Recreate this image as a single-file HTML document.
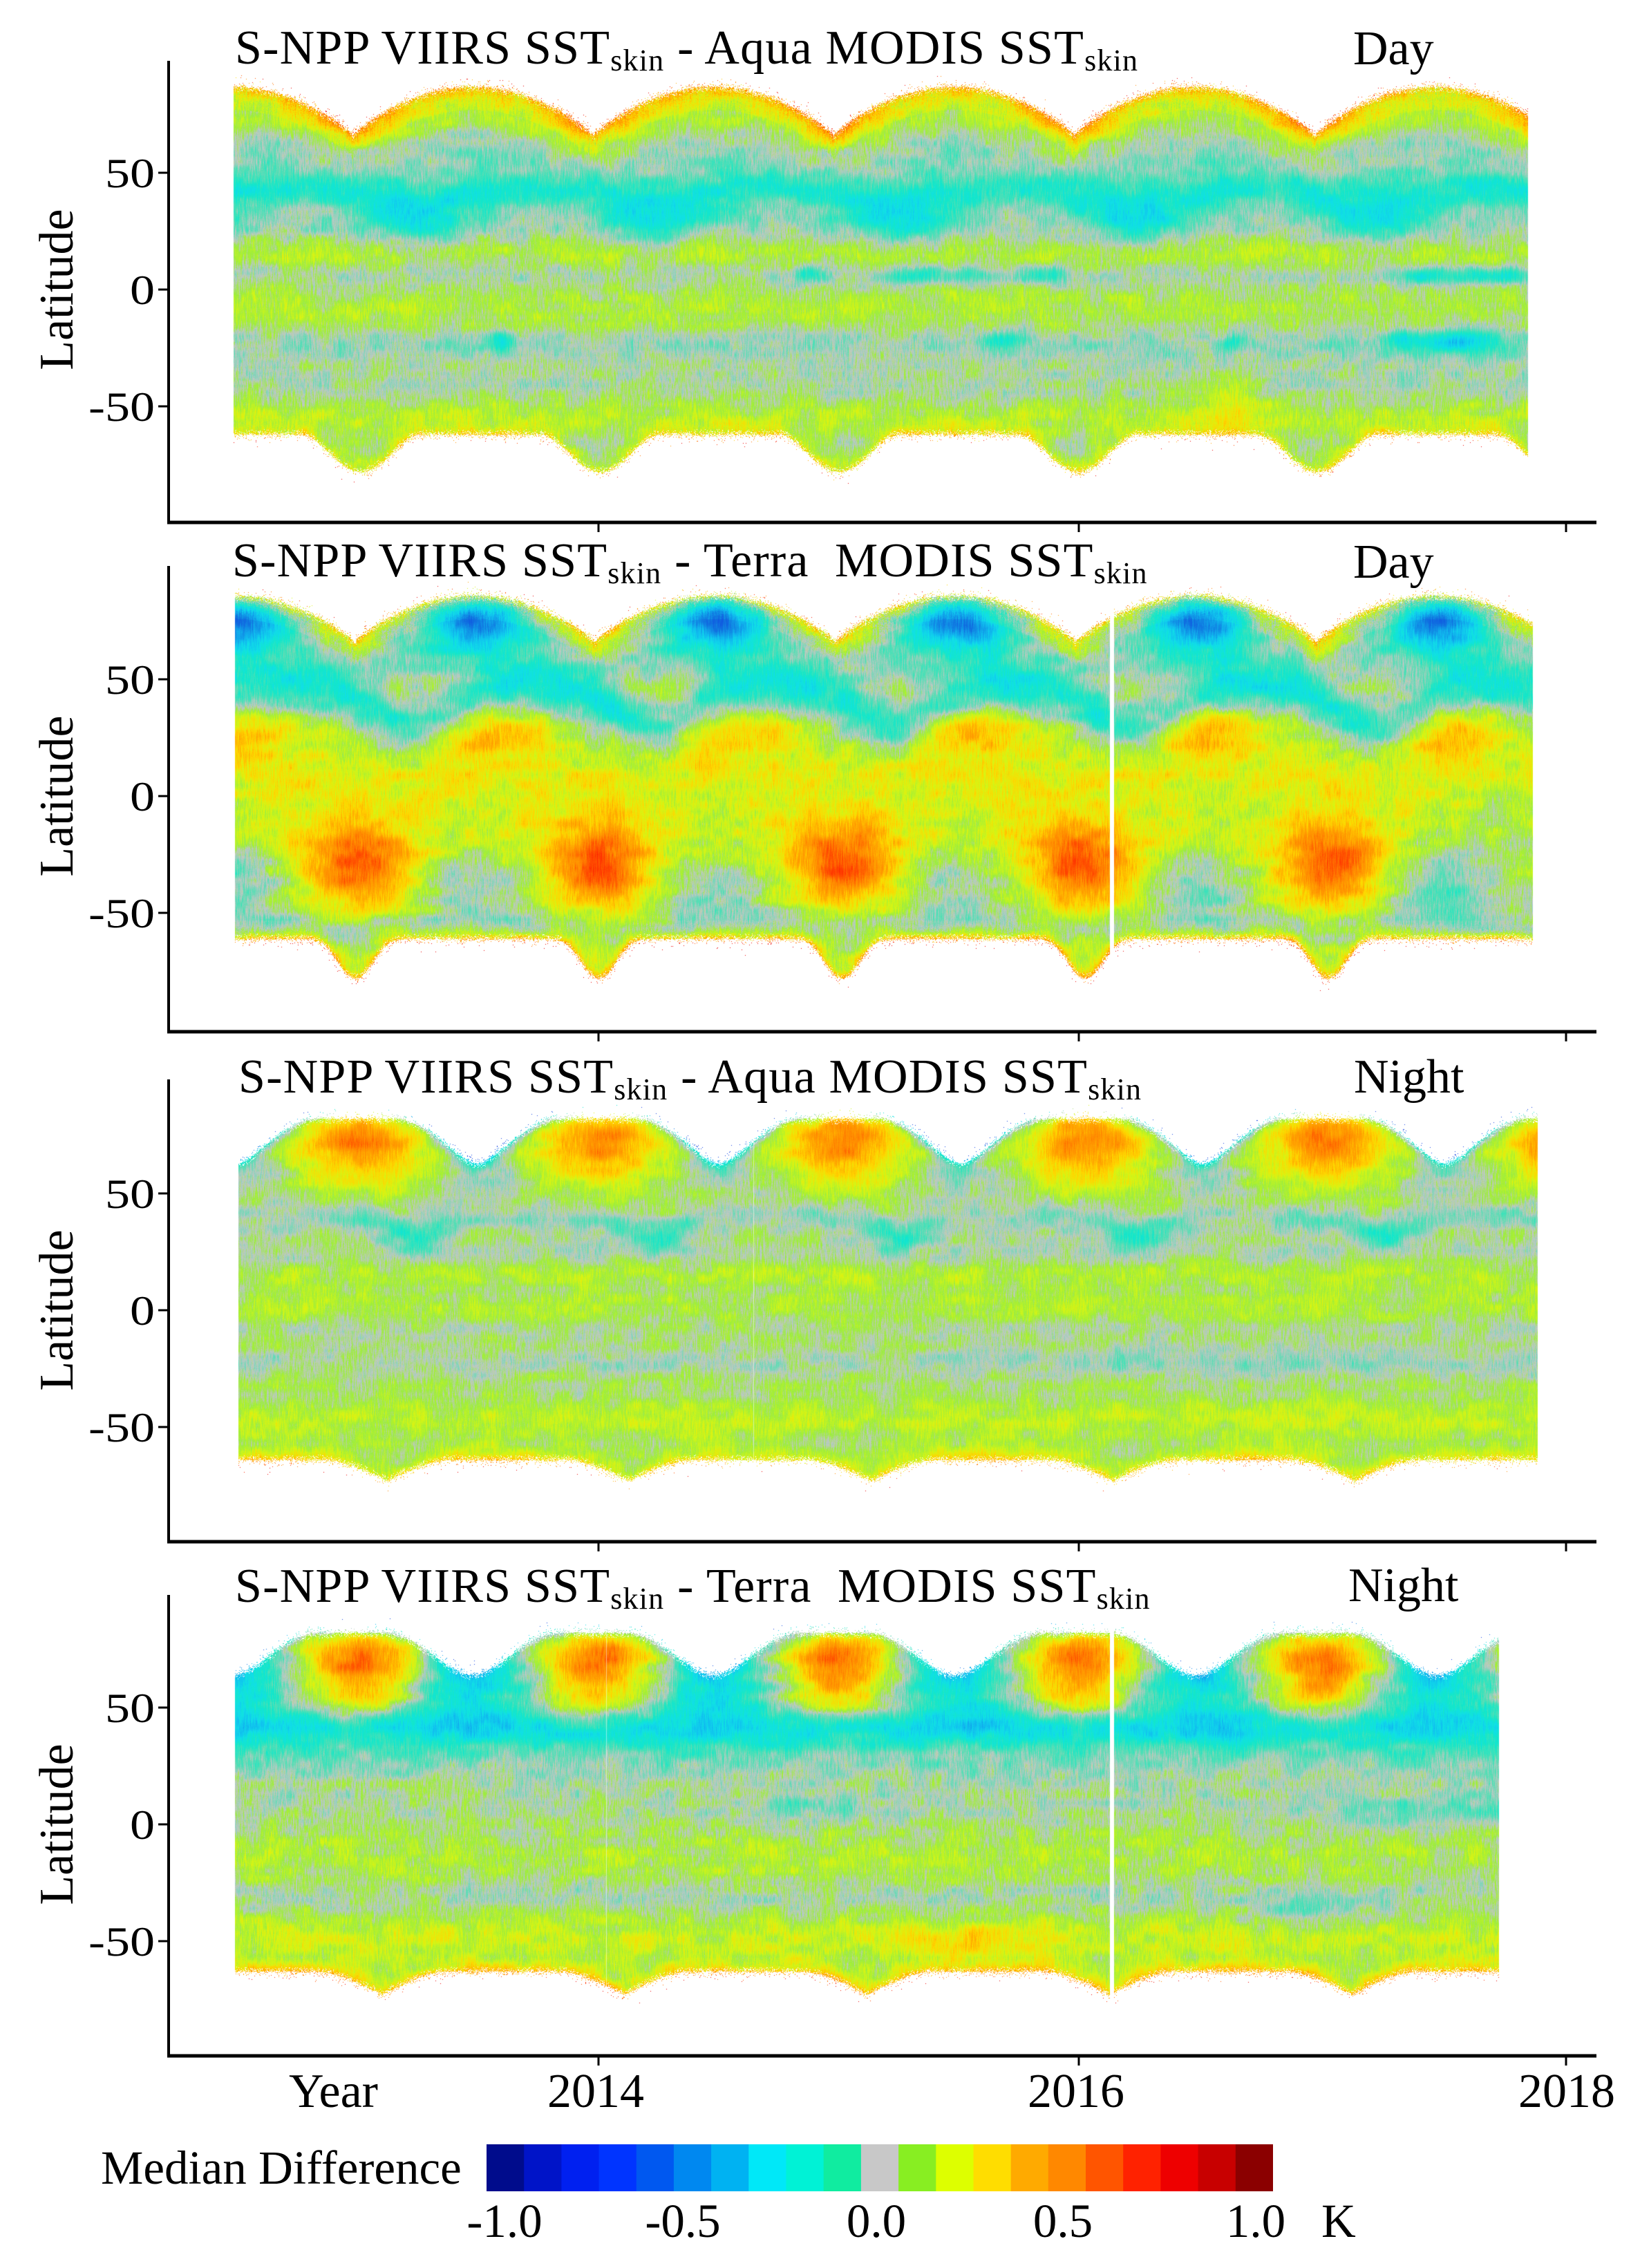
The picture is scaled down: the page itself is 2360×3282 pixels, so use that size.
<!DOCTYPE html>
<html><head><meta charset="utf-8">
<style>
html,body{margin:0;padding:0;background:#fff;}
#wrap{position:relative;width:2360px;height:3282px;overflow:hidden;background:#fff;}
canvas,svg{position:absolute;left:0;top:0;}
text{font-family:"Liberation Serif","Times New Roman",serif;fill:#000;}
</style></head><body>
<div id="wrap">
<canvas id="c" width="2360" height="3282"></canvas>
<svg width="2360" height="3282" viewBox="0 0 2360 3282" xmlns="http://www.w3.org/2000/svg" font-family="Liberation Serif, serif">
<g stroke="#000" fill="none">
  <line x1="244" y1="88" x2="244" y2="758" stroke-width="4"/>
  <line x1="242" y1="756" x2="2310" y2="756" stroke-width="5"/>
  <line x1="866" y1="756" x2="866" y2="770" stroke-width="3"/>
  <line x1="1561" y1="756" x2="1561" y2="770" stroke-width="3"/>
  <line x1="2266" y1="756" x2="2266" y2="770" stroke-width="3"/>
  <line x1="229" y1="250" x2="244" y2="250" stroke-width="3"/>
  <line x1="229" y1="419" x2="244" y2="419" stroke-width="3"/>
  <line x1="229" y1="588" x2="244" y2="588" stroke-width="3"/>
  <line x1="244" y1="819" x2="244" y2="1495" stroke-width="4"/>
  <line x1="242" y1="1493" x2="2310" y2="1493" stroke-width="5"/>
  <line x1="866" y1="1493" x2="866" y2="1507" stroke-width="3"/>
  <line x1="1561" y1="1493" x2="1561" y2="1507" stroke-width="3"/>
  <line x1="2266" y1="1493" x2="2266" y2="1507" stroke-width="3"/>
  <line x1="229" y1="983" x2="244" y2="983" stroke-width="3"/>
  <line x1="229" y1="1152" x2="244" y2="1152" stroke-width="3"/>
  <line x1="229" y1="1321" x2="244" y2="1321" stroke-width="3"/>
  <line x1="244" y1="1562" x2="244" y2="2233" stroke-width="4"/>
  <line x1="242" y1="2231" x2="2310" y2="2231" stroke-width="5"/>
  <line x1="866" y1="2231" x2="866" y2="2245" stroke-width="3"/>
  <line x1="1561" y1="2231" x2="1561" y2="2245" stroke-width="3"/>
  <line x1="2266" y1="2231" x2="2266" y2="2245" stroke-width="3"/>
  <line x1="229" y1="1727" x2="244" y2="1727" stroke-width="3"/>
  <line x1="229" y1="1896" x2="244" y2="1896" stroke-width="3"/>
  <line x1="229" y1="2065" x2="244" y2="2065" stroke-width="3"/>
  <line x1="244" y1="2308" x2="244" y2="2977" stroke-width="4"/>
  <line x1="242" y1="2975" x2="2310" y2="2975" stroke-width="5"/>
  <line x1="866" y1="2975" x2="866" y2="2989" stroke-width="3"/>
  <line x1="1561" y1="2975" x2="1561" y2="2989" stroke-width="3"/>
  <line x1="2266" y1="2975" x2="2266" y2="2989" stroke-width="3"/>
  <line x1="229" y1="2471" x2="244" y2="2471" stroke-width="3"/>
  <line x1="229" y1="2640" x2="244" y2="2640" stroke-width="3"/>
  <line x1="229" y1="2809" x2="244" y2="2809" stroke-width="3"/>
</g>

<text x="340" y="92" font-size="70" letter-spacing="1.2" style="white-space:pre">S-NPP VIIRS SST<tspan font-size="44" dy="10">skin</tspan><tspan dy="-10"> - Aqua MODIS SST</tspan><tspan font-size="44" dy="10">skin</tspan></text>
<text x="1958" y="93" font-size="70">Day</text>
<text x="336" y="834" font-size="70" letter-spacing="1.2" style="white-space:pre">S-NPP VIIRS SST<tspan font-size="44" dy="10">skin</tspan><tspan dy="-10"> - Terra  MODIS SST</tspan><tspan font-size="44" dy="10">skin</tspan></text>
<text x="1958" y="836" font-size="70">Day</text>
<text x="345" y="1581" font-size="70" letter-spacing="1.2" style="white-space:pre">S-NPP VIIRS SST<tspan font-size="44" dy="10">skin</tspan><tspan dy="-10"> - Aqua MODIS SST</tspan><tspan font-size="44" dy="10">skin</tspan></text>
<text x="1959" y="1581" font-size="70">Night</text>
<text x="340" y="2318" font-size="70" letter-spacing="1.2" style="white-space:pre">S-NPP VIIRS SST<tspan font-size="44" dy="10">skin</tspan><tspan dy="-10"> - Terra  MODIS SST</tspan><tspan font-size="44" dy="10">skin</tspan></text>
<text x="1951" y="2317" font-size="70">Night</text>

<text transform="translate(105,419) rotate(-90)" text-anchor="middle" font-size="70">Latitude</text>
<text transform="translate(105,1152) rotate(-90)" text-anchor="middle" font-size="70">Latitude</text>
<text transform="translate(105,1896) rotate(-90)" text-anchor="middle" font-size="70">Latitude</text>
<text transform="translate(105,2640) rotate(-90)" text-anchor="middle" font-size="70">Latitude</text>

<g transform="translate(224,271) scale(1.2,1)"><text text-anchor="end" font-size="60">50</text></g>
<g transform="translate(224,440) scale(1.2,1)"><text text-anchor="end" font-size="60">0</text></g>
<g transform="translate(224,609) scale(1.2,1)"><text text-anchor="end" font-size="60">-50</text></g>
<g transform="translate(224,1004) scale(1.2,1)"><text text-anchor="end" font-size="60">50</text></g>
<g transform="translate(224,1173) scale(1.2,1)"><text text-anchor="end" font-size="60">0</text></g>
<g transform="translate(224,1342) scale(1.2,1)"><text text-anchor="end" font-size="60">-50</text></g>
<g transform="translate(224,1748) scale(1.2,1)"><text text-anchor="end" font-size="60">50</text></g>
<g transform="translate(224,1917) scale(1.2,1)"><text text-anchor="end" font-size="60">0</text></g>
<g transform="translate(224,2086) scale(1.2,1)"><text text-anchor="end" font-size="60">-50</text></g>
<g transform="translate(224,2492) scale(1.2,1)"><text text-anchor="end" font-size="60">50</text></g>
<g transform="translate(224,2661) scale(1.2,1)"><text text-anchor="end" font-size="60">0</text></g>
<g transform="translate(224,2830) scale(1.2,1)"><text text-anchor="end" font-size="60">-50</text></g>

<text x="418" y="3049" font-size="70">Year</text>
<text x="862" y="3049" font-size="70" text-anchor="middle">2014</text>
<text x="1557" y="3049" font-size="70" text-anchor="middle">2016</text>
<text x="2267" y="3049" font-size="70" text-anchor="middle">2018</text>

<text x="146" y="3160" font-size="69">Median Difference</text>
<g stroke="none">
<rect x="704" y="3103" width="55" height="68" fill="#000c8c"/>
<rect x="758.2" y="3103" width="55" height="68" fill="#0014c8"/>
<rect x="812.4" y="3103" width="55" height="68" fill="#0020f0"/>
<rect x="866.6" y="3103" width="55" height="68" fill="#0034ff"/>
<rect x="920.8" y="3103" width="55" height="68" fill="#0058f0"/>
<rect x="974.9" y="3103" width="55" height="68" fill="#0088f0"/>
<rect x="1029.1" y="3103" width="55" height="68" fill="#00b2f2"/>
<rect x="1083.3" y="3103" width="55" height="68" fill="#00e8f8"/>
<rect x="1137.5" y="3103" width="55" height="68" fill="#00f2d6"/>
<rect x="1191.7" y="3103" width="55" height="68" fill="#10eca0"/>
<rect x="1245.9" y="3103" width="55" height="68" fill="#c8c8c8"/>
<rect x="1300.1" y="3103" width="55" height="68" fill="#88ee22"/>
<rect x="1354.3" y="3103" width="55" height="68" fill="#ddff00"/>
<rect x="1408.5" y="3103" width="55" height="68" fill="#ffdd00"/>
<rect x="1462.7" y="3103" width="55" height="68" fill="#ffaa00"/>
<rect x="1516.8" y="3103" width="55" height="68" fill="#ff8800"/>
<rect x="1571.0" y="3103" width="55" height="68" fill="#ff5500"/>
<rect x="1625.2" y="3103" width="55" height="68" fill="#ff2200"/>
<rect x="1679.4" y="3103" width="55" height="68" fill="#ee0000"/>
<rect x="1733.6" y="3103" width="55" height="68" fill="#c80000"/>
<rect x="1787.8" y="3103" width="54.2" height="68" fill="#8b0000"/>
</g>
<text x="730" y="3237" font-size="69" text-anchor="middle">-1.0</text>
<text x="988" y="3237" font-size="69" text-anchor="middle">-0.5</text>
<text x="1268" y="3237" font-size="69" text-anchor="middle">0.0</text>
<text x="1538" y="3237" font-size="69" text-anchor="middle">0.5</text>
<text x="1817" y="3237" font-size="69" text-anchor="middle">1.0</text>
<text x="1912" y="3237" font-size="69">K</text>
</svg>
</div>
<script>
(function(){
var cv=document.getElementById('c');
var ctx=cv.getContext('2d');
var s=987654321;
function rnd(){ s^=s<<13; s^=s>>>17; s^=s<<5; return (s>>>0)/4294967296; }
var stops=[[-0.8,16,64,224],[-0.6,16,112,224],[-0.5,16,152,232],[-0.4,16,192,240],[-0.3,16,224,232],[-0.2,20,232,200],[-0.1,90,222,180],[0,192,200,196],[0.08,155,238,62],[0.18,215,246,20],[0.28,255,216,0],[0.38,255,168,0],[0.48,255,136,0],[0.58,255,88,0],[0.68,255,48,0],[0.8,232,0,0]];
var N=1024,LR=new Uint8Array(N),LG=new Uint8Array(N),LB=new Uint8Array(N);
for(var i=0;i<N;i++){
  var v=-1+2*i/(N-1),r,gg,b;
  if(v<=stops[0][0]){r=stops[0][1];gg=stops[0][2];b=stops[0][3];}
  else if(v>=stops[stops.length-1][0]){var L=stops[stops.length-1];r=L[1];gg=L[2];b=L[3];}
  else{
    for(var k=0;k<stops.length-1;k++){
      if(v>=stops[k][0]&&v<stops[k+1][0]){
        var a=stops[k],c=stops[k+1],t=(v-a[0])/(c[0]-a[0]);
        r=a[1]+(c[1]-a[1])*t;gg=a[2]+(c[2]-a[2])*t;b=a[3]+(c[3]-a[3])*t;break;
      }
    }
  }
  LR[i]=r;LG[i]=gg;LB[i]=b;
}
function idx(v){var i=Math.round((v+1)*(N-1)/2);return i<0?0:(i>N-1?N-1:i);}
var E=Math.exp;
function g(a,sg){return E(-a*a/(2*sg*sg));}
function dnear(x,c,P){var d=((x-c)%P+P)%P;if(d>P/2)d-=P;return d;}
function per(x,c,P,sg){var d=dnear(x,c,P);return E(-d*d/(2*sg*sg));}
function topFlat(x,x0,P,rad,span,lo,hi){var d=dnear(x,x0,P);var r=Math.sqrt(d*d+rad*rad)-rad;var u=Math.min(1,r/span);return lo+(hi-lo)*(1.5*u-0.5*u*u*u);}

var K=3.38;
function render(p){
  var y0=Math.floor(p.Z-92*K),y1=Math.ceil(p.Z+84*K);
  var w=p.xe-p.xs+1,h=y1-y0+1;
  var img=ctx.createImageData(w,h),d=img.data;
  var sy=9,ny=Math.ceil(h/sy)+2;
  var bx=26,by=14,gw=Math.ceil(w/bx)+2,gh=Math.ceil(h/by)+2;
  var grid=new Float32Array(gw*gh);
  for(var q=0;q<gw*gh;q++)grid[q]=rnd()*2-1;
  var col=new Float32Array(ny);
  for(var i=0;i<w;i++){
    var x=p.xs+i;
    var gap=false;
    if(p.gaps){for(var z=0;z<p.gaps.length;z++){if(x>=p.gaps[z][0]&&x<=p.gaps[z][1])gap=true;}}
    if(gap)continue;
    var faint=p.faint&&p.faint.indexOf(x)>=0;
    for(var k=0;k<ny;k++)col[k]=rnd()*2-1;
    var top=p.top(x),bot=p.bot(x);
    var C=p.col(x);
    for(var j=0;j<h;j++){
      var y=y0+j,lat=(p.Z-y)/K;
      var dt=top-lat,db=lat-bot;
      var m=Math.min(dt,db)*K;
      if(m<0){ if(m<-25||rnd()>=0.35*E(m/3))continue; }
      else if(m<8){ if(rnd()>=0.6+0.05*m)continue; }
      var fy=j/sy,k0=fy|0,t=fy-k0;
      var cn=col[k0]*(1-t)+col[k0+1]*t;
      var gx=i/bx,gy=j/by,ix=gx|0,iy=gy|0,tx=gx-ix,ty=gy-iy;
      var sx_=tx*tx*(3-2*tx),sy_=ty*ty*(3-2*ty);
      var A=grid[iy*gw+ix],B=grid[iy*gw+ix+1],C2=grid[(iy+1)*gw+ix],D2=grid[(iy+1)*gw+ix+1];
      var bn=(A*(1-sx_)+B*sx_)*(1-sy_)+(C2*(1-sx_)+D2*sx_)*sy_;
      var v=p.pix(lat,C,dt,db,x)+p.an*cn+p.bn*bn+0.018*(rnd()*2-1);
      var qi=idx(v),o=(j*w+i)*4;
      if(faint){d[o]=(LR[qi]+255)>>1;d[o+1]=(LG[qi]+255)>>1;d[o+2]=(LB[qi]+255)>>1;}
      else{d[o]=LR[qi];d[o+1]=LG[qi];d[o+2]=LB[qi];}
      d[o+3]=255;
    }
  }
  ctx.putImageData(img,p.xs,y0);
}

var P1={Z:419,xs:338,xe:2210,an:0.07,bn:0.06,
 top:function(x){return 66+21*Math.pow(Math.abs(Math.sin(Math.PI*(x-510)/348)),0.8);},
 bot:function(x){return -62-16*Math.pow(Math.max(0,Math.cos(2*Math.PI*(x-522)/346)),1.8);},
 col:function(x){var dip=per(x,600,348,60);
   return {Lc:44-9*dip,ta:0.24+0.06*dip,ts:6+4*dip,pk:per(x,684,348,80),tr:per(x,510,348,50),
   b6:0.22*g(x-1165,18)+0.22*g(x-1331,25)+0.15*g(x-1400,20)+0.2*g(x-1513,22)+0.22*g(x-2060,30)+0.25*g(x-2160,40),
   b22:0.2*g(x-726,14)+0.22*g(x-1452,25)+0.18*g(x-1785,14)+0.2*g(x-2030,25)+0.25*g(x-2110,35),
   gr:0.06*g(x-2110,110),ye:0.12*g(x-1770,40)};},
 pix:function(lat,C,dt,db){
   var v=0.045+0.07*g(lat-16,4)+0.06*g(lat+9,6)+0.08*g(lat+55,5)+0.07*g(lat-76,7)
     -0.07*g(lat-28,5)-0.05*g(lat-6,3)-0.08*g(lat+24,5)-0.04*g(lat+40,5);
   v-=C.ta*g(lat-C.Lc,C.ts);
   v-=0.1*C.pk*g(lat-60,6);
   v+=0.14*C.tr*g(lat-70,6);
   v-=C.b6*g(lat-6,2.5)+C.b22*g(lat+22,3);
   v-=C.gr*g(lat+22,10);
   v+=C.ye*g(lat+47,8);
   if(dt<10)v+=(0.1+0.35*rnd())*E(-dt/5);
   if(db<8)v+=(0.08+0.25*rnd())*E(-db/3);
   return v;}
};

var P2={Z:1152,xs:340,xe:2217,an:0.07,bn:0.07,gaps:[[1606,1611]],
 top:function(x){return 66+20*Math.pow(Math.abs(Math.sin(Math.PI*(x-512)/348)),0.8);},
 bot:function(x){return -61-17*Math.pow(Math.max(0,Math.cos(2*Math.PI*(x-514)/352)),5);},
 col:function(x){
   var red=0,halo=0,cs=[514,862,1215,1558,1921];
   for(var k=0;k<cs.length;k++){red+=g(x-cs[k]-8,45);halo+=g(x-cs[k],105);}
   return {bl:per(x,690,348,45),tl:per(x,690,348,85),Lc:46-16*per(x,600,348,55),or:per(x,700,348,65),red:red,halo:halo,btw:per(x,690,348,70)};},
 pix:function(lat,C,dt,db){
   var v=0.1+0.06*g(lat-8,6);
   v-=0.42*C.bl*g(lat-76,7);
   v-=0.3*C.tl*g(lat-70,11);
   v-=0.32*g(lat-C.Lc,7.5);
   v-=0.08*g(lat-55,6);
   v+=0.25*C.or*g(lat-28,10);
   v+=0.32*C.red*g(lat+30,11)+0.2*C.halo*g(lat+24,20);
   v-=0.22*C.btw*g(lat+38,12);
   v-=0.12*g(lat+56,5);
   if(dt<10)v+=(0.1+0.35*rnd())*E(-dt/5);
   if(db<8)v+=(0.15+0.3*rnd())*E(-db/3);
   return v;}
};

var P3={Z:1896,xs:345,xe:2224,an:0.06,bn:0.06,faint:[1090],
 top:function(x){return topFlat(x,690,350,20,100,63,82);},
 bot:function(x){var d=Math.abs(dnear(x,560,350));return -64-9*Math.pow(Math.max(0,1-d/90),1.5);},
 col:function(x){return {o:per(x,520,350,58),o2:per(x,520,350,70),tr:per(x,690,350,50),tb:40-8*per(x,600,350,40),
   ta:0.06+0.16*per(x,600,350,45)+0.06*per(x,820,350,50),gp:0.05*g(x-1800,250),
   bo:0.1*(g(x-378,40)+g(x-711,40)+g(x-1422,40)+g(x-1830,40))};},
 pix:function(lat,C,dt,db){
   var v=0.055+0.06*g(lat-15,4)+0.05*g(lat-1,4)+0.08*g(lat+46,5)-0.05*g(lat-25,4)-0.06*g(lat+22,4)-0.03*g(lat+8,3);
   v+=0.4*C.o*g(lat-74,8)+0.15*C.o2*g(lat-60,8);
   v-=0.1*C.tr*g(lat-58,6);
   v-=C.ta*g(lat-C.tb,4.5);
   v-=C.gp*g(lat+20,5);
   if(dt<6)v-=0.3*E(-dt/2)*(1-C.o);
   v+=(0.12+C.bo)*E(-db/5);
   if(db<6)v+=0.15*rnd()*E(-db/3);
   return v;}
};

var P4={Z:2640,xs:340,xe:2168,an:0.07,bn:0.07,gaps:[[1606,1611]],faint:[877],
 top:function(x){return topFlat(x,683,349,35,95,64,82);},
 bot:function(x){var d=Math.abs(dnear(x,552,351));return -63-10*Math.pow(Math.max(0,1-d/90),1.5);},
 col:function(x){return {o:per(x,522,348,58),o2:per(x,522,348,62),tr:per(x,683,349,75),
   rt:0.14*g(x-2080,120),mt:0.1*g(x-1180,60),st:0.1*g(x-1880,60),so:0.1*g(x-1420,80)};},
 pix:function(lat,C,dt,db){
   var v=0.05+0.1*g(lat+48,6)+0.05*g(lat+15,8)-0.05*g(lat+30,5)-0.09*g(lat-27,6)-0.04*g(lat-10,6);
   v+=0.45*C.o*g(lat-72,8)+0.25*C.o2*g(lat-56,8);
   v-=0.34*C.tr*g(lat-60,12);
   v-=0.3*g(lat-41,6);
   if(dt<6)v-=0.15*E(-dt/3);
   v-=C.rt*g(lat-5,5)+C.mt*g(lat-8,4)+C.st*g(lat+38,6);
   v+=C.so*g(lat+50,6);
   v+=0.2*E(-db/5);
   if(db<6)v+=0.2*rnd()*E(-db/3);
   return v;}
};

render(P1);render(P2);render(P3);render(P4);
})();
</script>
</body></html>
